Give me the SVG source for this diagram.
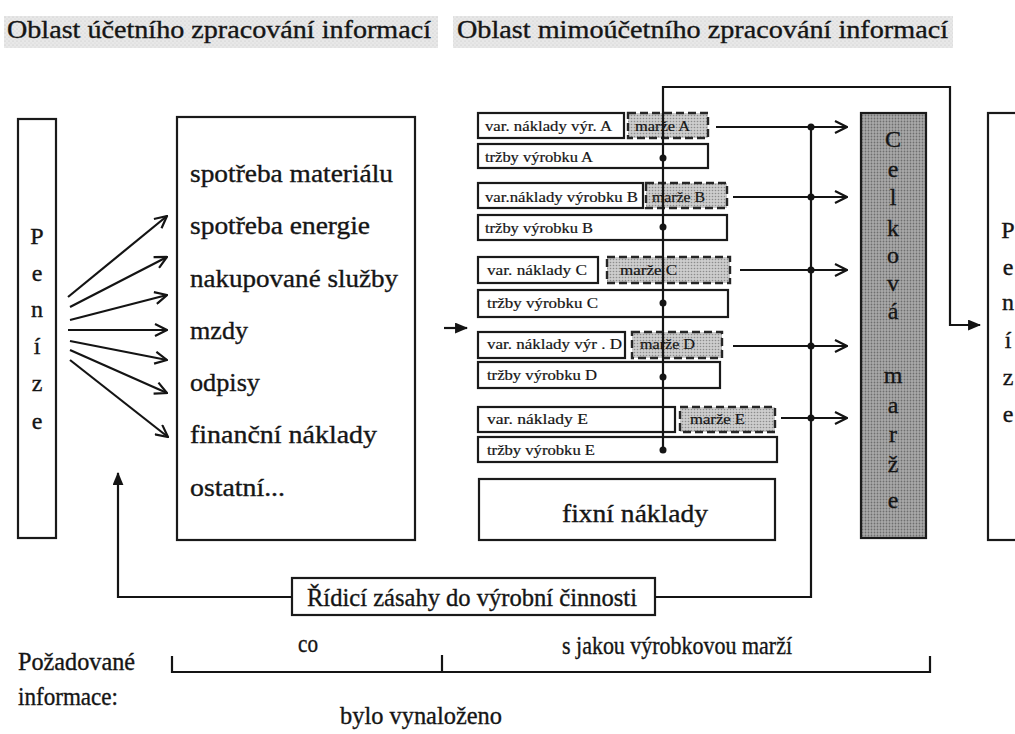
<svg xmlns="http://www.w3.org/2000/svg" width="1015" height="734" viewBox="0 0 1015 734" font-family="'Liberation Serif', 'DejaVu Serif', serif">
  <style>
    text { font-family: "Liberation Serif", "DejaVu Serif", serif; fill: #151515; stroke: #151515; stroke-width: 0.35; }
    .box { fill: #ffffff; stroke: #1a1a1a; stroke-width: 2.2; }
    .margin { stroke: #262626; stroke-width: 2.4; stroke-dasharray: 8 4; }
    .total { stroke: #1a1a1a; stroke-width: 2.2; }
    .wire { fill: none; stroke: #141414; stroke-width: 2.2; }
    .title { font-size: 25px; }
    .big { font-size: 25px; }
    .small { font-size: 14px; stroke-width: 0.2; }
    .letter { font-size: 24px; text-anchor: middle; }
    .bar { fill: url(#haze); }
    .dot { fill: #141414; }
  </style>
  <defs>
    <marker id="open" viewBox="0 0 14 14" refX="13" refY="7" markerWidth="14" markerHeight="14" markerUnits="userSpaceOnUse" orient="auto">
      <path d="M1,1 L13,7 L1,13" fill="none" stroke="#141414" stroke-width="2.2"/>
    </marker>
    <marker id="solid" viewBox="0 0 12 10" refX="11" refY="5" markerWidth="13" markerHeight="11" markerUnits="userSpaceOnUse" orient="auto">
      <path d="M0,0 L12,5 L0,10 Z" fill="#141414"/>
    </marker>
    <pattern id="halftone" width="3" height="3" patternUnits="userSpaceOnUse">
      <rect width="3" height="3" fill="#aaaaaa"/>
      <circle cx="1.5" cy="1.5" r="0.9" fill="#6e6e6e"/>
    </pattern>
    <pattern id="halftoneLight" width="3" height="3" patternUnits="userSpaceOnUse">
      <rect width="3" height="3" fill="#cdcdcd"/>
      <circle cx="1.5" cy="1.5" r="0.8" fill="#8c8c8c"/>
    </pattern>
    <pattern id="haze" width="4" height="4" patternUnits="userSpaceOnUse">
      <rect width="4" height="4" fill="#e8e8e8"/>
      <circle cx="1" cy="1" r="0.6" fill="#c4c4c4"/>
      <circle cx="3" cy="3" r="0.5" fill="#d0d0d0"/>
    </pattern>
  </defs>

  <!-- section headings -->
  <g id="heading-accounting">
    <rect class="bar" x="4" y="16" width="434" height="32"/>
    <text class="title" x="7" y="38" textLength="424" lengthAdjust="spacingAndGlyphs">Oblast účetního zpracování informací</text>
  </g>
  <g id="heading-nonaccounting">
    <rect class="bar" x="453" y="16" width="500" height="32"/>
    <text class="title" x="457" y="38" textLength="491" lengthAdjust="spacingAndGlyphs">Oblast mimoúčetního zpracování informací</text>
  </g>

  <!-- money source -->
  <g id="money-left">
    <rect class="box" x="18" y="119" width="38" height="419"/>
    <text class="letter" x="37" y="244">P</text>
    <text class="letter" x="37" y="281">e</text>
    <text class="letter" x="37" y="317">n</text>
    <text class="letter" x="37" y="354">í</text>
    <text class="letter" x="37" y="391">z</text>
    <text class="letter" x="37" y="429">e</text>
  </g>

  <!-- cost types -->
  <g id="cost-types">
    <rect class="box" x="177" y="117" width="238" height="423"/>
    <text class="big" x="190" y="182" textLength="203" lengthAdjust="spacingAndGlyphs">spotřeba materiálu</text>
    <text class="big" x="190" y="234" textLength="180" lengthAdjust="spacingAndGlyphs">spotřeba energie</text>
    <text class="big" x="190" y="287" textLength="208" lengthAdjust="spacingAndGlyphs">nakupované služby</text>
    <text class="big" x="190" y="339" textLength="58" lengthAdjust="spacingAndGlyphs">mzdy</text>
    <text class="big" x="190" y="391" textLength="70" lengthAdjust="spacingAndGlyphs">odpisy</text>
    <text class="big" x="190" y="443" textLength="187" lengthAdjust="spacingAndGlyphs">finanční náklady</text>
    <text class="big" x="190" y="496" textLength="95" lengthAdjust="spacingAndGlyphs">ostatní...</text>
  </g>

  <!-- product A -->
  <g id="product-a">
    <rect class="box" x="478" y="113" width="146" height="25"/>
    <text class="small" x="485" y="131" textLength="127" lengthAdjust="spacingAndGlyphs">var. náklady výr. A</text>
    <rect class="margin" x="628" y="113" width="80" height="25" style="fill:url(#halftoneLight)"/>
    <text class="small" x="635" y="131" textLength="55" lengthAdjust="spacingAndGlyphs">marže A</text>
    <rect class="box" x="478" y="144" width="230" height="24"/>
    <text class="small" x="485" y="162" textLength="108" lengthAdjust="spacingAndGlyphs">tržby výrobku A</text>
  </g>

  <!-- product B -->
  <g id="product-b">
    <rect class="box" x="478" y="183" width="165" height="25"/>
    <text class="small" x="485" y="202" textLength="153" lengthAdjust="spacingAndGlyphs">var.náklady výrobku B</text>
    <rect class="margin" x="646" y="183" width="81" height="25" style="fill:url(#halftoneLight)"/>
    <text class="small" x="652" y="202" textLength="53" lengthAdjust="spacingAndGlyphs">marže B</text>
    <rect class="box" x="478" y="215" width="249" height="25"/>
    <text class="small" x="485" y="233" textLength="108" lengthAdjust="spacingAndGlyphs">tržby výrobku B</text>
  </g>

  <!-- product C -->
  <g id="product-c">
    <rect class="box" x="478" y="257" width="120" height="26"/>
    <text class="small" x="487" y="275" textLength="100" lengthAdjust="spacingAndGlyphs">var. náklady  C</text>
    <rect class="margin" x="607" y="257" width="123" height="26" style="fill:url(#halftoneLight)"/>
    <text class="small" x="620" y="275" textLength="57" lengthAdjust="spacingAndGlyphs">marže C</text>
    <rect class="box" x="478" y="290" width="250" height="27"/>
    <text class="small" x="487" y="308" textLength="111" lengthAdjust="spacingAndGlyphs">tržby výrobku C</text>
  </g>

  <!-- product D -->
  <g id="product-d">
    <rect class="box" x="478" y="332" width="147" height="26"/>
    <text class="small" x="487" y="349" textLength="135" lengthAdjust="spacingAndGlyphs">var. náklady výr . D</text>
    <rect class="margin" x="632" y="332" width="90" height="26" style="fill:url(#halftoneLight)"/>
    <text class="small" x="640" y="349" textLength="55" lengthAdjust="spacingAndGlyphs">marže D</text>
    <rect class="box" x="478" y="362" width="242" height="26"/>
    <text class="small" x="487" y="380" textLength="110" lengthAdjust="spacingAndGlyphs">tržby výrobku D</text>
  </g>

  <!-- product E -->
  <g id="product-e">
    <rect class="box" x="478" y="407" width="197" height="25"/>
    <text class="small" x="487" y="424" textLength="101" lengthAdjust="spacingAndGlyphs">var. náklady E</text>
    <rect class="margin" x="680" y="407" width="95" height="25" style="fill:url(#halftoneLight)"/>
    <text class="small" x="690" y="424" textLength="55" lengthAdjust="spacingAndGlyphs">marže E</text>
    <rect class="box" x="478" y="437" width="299" height="25"/>
    <text class="small" x="487" y="455" textLength="108" lengthAdjust="spacingAndGlyphs">tržby výrobku E</text>
  </g>

  <!-- fixed costs -->
  <g id="fixed-costs">
    <rect class="box" x="479" y="479" width="296" height="61"/>
    <text class="big" x="562" y="522" textLength="146" lengthAdjust="spacingAndGlyphs">fixní náklady</text>
  </g>

  <!-- total margin -->
  <g id="total-margin">
    <rect class="total" x="861" y="113" width="65" height="425" style="fill:url(#halftone)"/>
    <text class="letter" x="893" y="147">C</text>
    <text class="letter" x="893" y="177">e</text>
    <text class="letter" x="893" y="205">l</text>
    <text class="letter" x="893" y="236">k</text>
    <text class="letter" x="893" y="263">o</text>
    <text class="letter" x="893" y="291">v</text>
    <text class="letter" x="893" y="319">á</text>
    <text class="letter" x="893" y="383">m</text>
    <text class="letter" x="893" y="413">a</text>
    <text class="letter" x="893" y="442">r</text>
    <text class="letter" x="893" y="472">ž</text>
    <text class="letter" x="893" y="508">e</text>
  </g>

  <!-- money returned -->
  <g id="money-right">
    <rect class="box" x="988" y="113" width="40" height="427"/>
    <text class="letter" x="1008" y="238">P</text>
    <text class="letter" x="1008" y="275">e</text>
    <text class="letter" x="1008" y="310">n</text>
    <text class="letter" x="1008" y="348">í</text>
    <text class="letter" x="1008" y="385">z</text>
    <text class="letter" x="1008" y="422">e</text>
  </g>

  <!-- control action -->
  <g id="control">
    <rect class="box" x="292" y="578" width="363" height="37"/>
    <text class="big" x="307" y="606" textLength="330" lengthAdjust="spacingAndGlyphs">Řídicí zásahy do výrobní činnosti</text>
  </g>

  <g id="connectors">
    <!-- money split into cost types -->
    <line class="wire" x1="68" y1="297" x2="167" y2="216" marker-end="url(#open)"/>
    <line class="wire" x1="70" y1="307" x2="167" y2="257" marker-end="url(#open)"/>
    <line class="wire" x1="70" y1="320" x2="167" y2="295" marker-end="url(#open)"/>
    <line class="wire" x1="68" y1="330" x2="167" y2="330" marker-end="url(#open)"/>
    <line class="wire" x1="70" y1="341" x2="167" y2="360" marker-end="url(#open)"/>
    <line class="wire" x1="70" y1="350" x2="167" y2="393" marker-end="url(#open)"/>
    <line class="wire" x1="70" y1="360" x2="168" y2="437" marker-end="url(#open)"/>

    <!-- costs passed to product calculation -->
    <line class="wire" x1="444" y1="328" x2="467" y2="328" stroke-width="3" marker-end="url(#solid)"/>

    <!-- revenue bus up to the returned money -->
    <polyline class="wire" points="663,450 663,87 950,87 950,325 980,325" marker-end="url(#solid)"/>
    <circle class="dot" cx="663" cy="158" r="3.5"/>
    <circle class="dot" cx="663" cy="227" r="3.5"/>
    <circle class="dot" cx="663" cy="303" r="3.5"/>
    <circle class="dot" cx="663" cy="377" r="3.5"/>
    <circle class="dot" cx="663" cy="450" r="3.5"/>

    <!-- product margins into total margin -->
    <line class="wire" x1="716" y1="127" x2="847" y2="127" marker-end="url(#open)"/>
    <line class="wire" x1="733" y1="197" x2="847" y2="197" marker-end="url(#open)"/>
    <line class="wire" x1="740" y1="270" x2="847" y2="270" marker-end="url(#open)"/>
    <line class="wire" x1="733" y1="346" x2="847" y2="346" marker-end="url(#open)"/>
    <line class="wire" x1="781" y1="418" x2="847" y2="418" marker-end="url(#open)"/>
    <circle class="dot" cx="811" cy="127" r="3.5"/>
    <circle class="dot" cx="811" cy="197" r="3.5"/>
    <circle class="dot" cx="811" cy="270" r="3.5"/>
    <circle class="dot" cx="811" cy="346" r="3.5"/>
    <circle class="dot" cx="811" cy="418" r="3.5"/>

    <!-- feedback loop -->
    <polyline class="wire" points="811,127 811,597 655,597"/>
    <polyline class="wire" points="292,597 118,597 118,473" marker-end="url(#solid)"/>
  </g>

  <!-- required information -->
  <g id="required-info">
    <text class="big" x="18" y="670" textLength="117" lengthAdjust="spacingAndGlyphs">Požadované</text>
    <text class="big" x="18" y="705" textLength="100" lengthAdjust="spacingAndGlyphs">informace:</text>
    <text class="big" x="298" y="652" textLength="20" lengthAdjust="spacingAndGlyphs">co</text>
    <text class="big" x="562" y="654" textLength="230" lengthAdjust="spacingAndGlyphs">s jakou výrobkovou marží</text>
    <text class="big" x="340" y="724" textLength="162" lengthAdjust="spacingAndGlyphs">bylo vynaloženo</text>
    <polyline class="wire" points="172,656 172,672 930,672 930,656"/>
    <line class="wire" x1="442" y1="655" x2="442" y2="672"/>
  </g>
</svg>
